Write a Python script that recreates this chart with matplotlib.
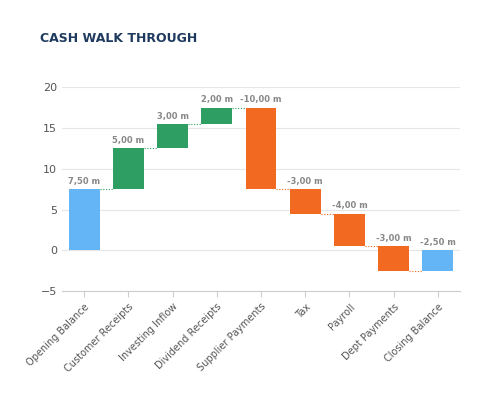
import matplotlib.pyplot as plt

categories = ["Opening Balance", "Customer Receipts", "Investing Inflow", "Dividend Receipts",
              "Supplier Payments", "Tax", "Payroll", "Dept Payments", "Closing Balance"]
changes = [7.5, 5.0, 3.0, 2.0, -10.0, -3.0, -4.0, -3.0, -2.5]
kinds = ["total", "up", "up", "up", "down", "down", "down", "down", "total"]
labels = ["7,50 m", "5,00 m", "3,00 m", "2,00 m", "-10,00 m", "-3,00 m", "-4,00 m", "-3,00 m", "-2,50 m"]

colors = {"total": "#64b5f6", "up": "#2e9e62", "down": "#f26a22"}

fig = plt.figure(figsize=(5, 4), dpi=100)
ax = fig.add_axes([0.124, 0.272, 0.796, 0.51])

running = 0.0
tops = []
for i, (c, k) in enumerate(zip(changes, kinds)):
    if k == "total":
        bottom, height = 0, c
        running = c
    else:
        bottom, height = running, c
        running += c
    ax.bar(i, height, bottom=bottom, width=0.7, color=colors[k], zorder=3)
    top = max(bottom, bottom + height)
    ax.text(i, top + 0.4, labels[i], ha="center", va="bottom", fontsize=6,
            fontweight="bold", color="#888888")
    end = bottom + height
    if i < len(changes) - 1:
        ax.plot([i + 0.35, i + 0.65], [end, end], linestyle=(0, (1, 1.5)), lw=0.8,
                color=colors["down"] if k == "down" else colors["up"], zorder=2)

ax.set_ylim(-5, 20)
ax.set_yticks(range(-5, 21, 5))
ax.set_xlim(-0.5, len(categories) - 0.5)
ax.set_xticks(range(len(categories)))
ax.set_xticklabels(categories, rotation=45, ha="right", rotation_mode="anchor", fontsize=7, color="#555555")
ax.tick_params(axis="y", labelsize=8, colors="#555555", length=0)
ax.tick_params(axis="x", length=4, color="#cccccc")
ax.grid(axis="y", color="#e6e6e6", lw=0.8, zorder=0)
for s in ["top", "right", "left"]:
    ax.spines[s].set_visible(False)
ax.spines["bottom"].set_color("#cccccc")

fig.text(0.08, 0.895, "CASH WALK THROUGH", fontsize=9, fontweight="bold", color="#1f3a5f")
fig.savefig("out.png")
